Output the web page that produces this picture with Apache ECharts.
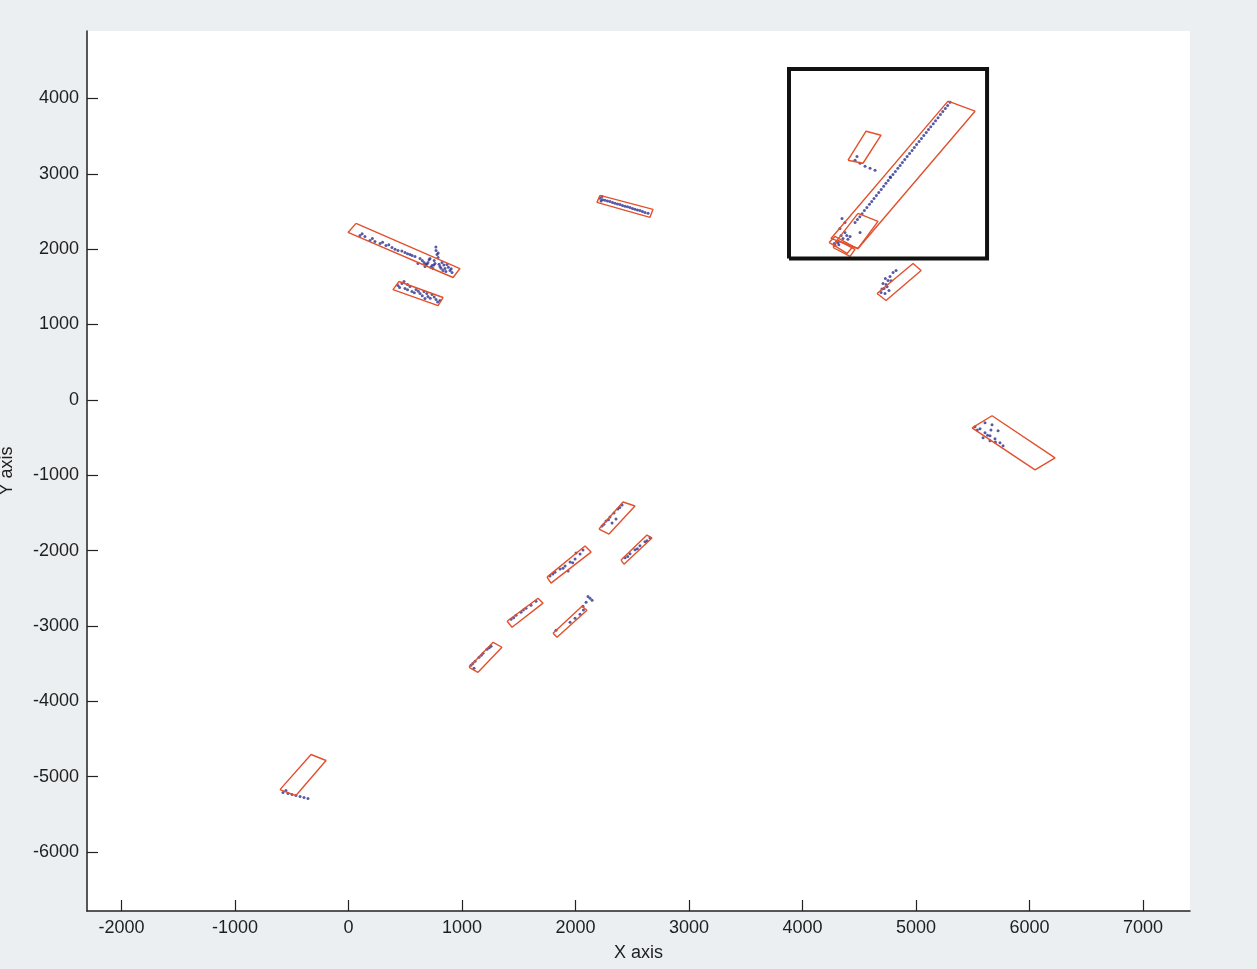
<!DOCTYPE html>
<html>
<head>
<meta charset="utf-8">
<title>Detected objects</title>
<script src="https://cdn.jsdelivr.net/npm/echarts@6/dist/echarts.min.js"></script>
<style>
  html, body { margin: 0; padding: 0; background: #eceff2; }
  #chart { width: 1257px; height: 969px; }
</style>
</head>
<body>
<div id="chart"></div>
<script>
// Axis ticks
const xTickValues = [-2000, -1000, 0, 1000, 2000, 3000, 4000, 5000, 6000, 7000];
const yTickValues = [-6000, -5000, -4000, -3000, -2000, -1000, 0, 1000, 2000, 3000, 4000];
const xRange = [-2304, 7414];
const yRange = [-6783, 4895];

// Fitted object outlines (corner points, x / y)
const rectUpperLeftLong = [[66, 2342], [982, 1743], [921, 1624], [-4, 2222]];
const rectUpperLeftShort = [[445, 1571], [833, 1358], [789, 1251], [392, 1464]];
const rectTopMiddle = [[2216, 2714], [2683, 2528], [2656, 2422], [2189, 2621]];
const rectRightMid = [[4657, 1411], [4974, 1810], [5045, 1717], [4736, 1318]];
const rectFarRight = [[5494, -371], [5670, -211], [6225, -770], [6049, -930]];
const rectLaneA = [[2207, -1714], [2419, -1355], [2524, -1408], [2295, -1781]];
const rectLaneB = [[2401, -2126], [2630, -1794], [2674, -1834], [2427, -2180]];
const rectLaneC = [[1749, -2352], [2084, -1940], [2137, -2020], [1784, -2432]];
const rectLaneD = [[1397, -2938], [1670, -2632], [1714, -2698], [1441, -3017]];
const rectLaneE = [[1802, -3097], [2057, -2738], [2101, -2791], [1837, -3150]];
const rectLaneF = [[1062, -3549], [1274, -3217], [1352, -3283], [1141, -3616]];
const rectBottomLeft = [[-604, -5172], [-330, -4706], [-198, -4786], [-463, -5251]];
const rectWallLong = [[5282, 3964], [5520, 3831], [4489, 2009], [4251, 2142]];
const rectWallSmall = [[4401, 3180], [4560, 3565], [4692, 3512], [4533, 3140]];
const rectWallMid = [[4489, 2475], [4665, 2368], [4489, 2009], [4304, 2116]];
const rectWallCornerA = [[4234, 2089], [4286, 2169], [4445, 2036], [4392, 1943]];
const rectWallCornerB = [[4269, 2022], [4313, 2116], [4463, 1996], [4419, 1903]];

// Highlighted region
const focusFrame = [[3881, 1876], [5626, 1876], [5626, 4390], [3881, 4390]];

// Scan returns (x / y)
const ptsUpperLeftLong = [
  [101, 2182], [145, 2169], [189, 2116], [233, 2102], [278, 2076], [330, 2049],
  [383, 2022], [436, 1983], [498, 1956], [542, 1929], [586, 1903], [630, 1876],
  [665, 1823], [700, 1823], [718, 1876], [736, 1783], [762, 1810], [780, 1929],
  [789, 1890], [806, 1770], [824, 1823], [850, 1743], [868, 1796], [894, 1717],
  [912, 1690], [674, 1770], [612, 1810], [744, 1743], [832, 1717], [771, 1983],
  [120, 2205], [210, 2140], [300, 2090], [355, 2060], [410, 2000], [470, 1975],
  [520, 1940], [560, 1915], [650, 1850], [690, 1800], [725, 1760], [755, 1850],
  [798, 1800], [815, 1745], [840, 1790], [858, 1705], [880, 1760], [905, 1740],
  [770, 2030], [790, 1950], [752, 1790], [710, 1860], [680, 1800]
];
const ptsUpperLeftShort = [
  [436, 1517], [471, 1544], [498, 1477], [542, 1504], [559, 1438], [595, 1464],
  [630, 1411], [665, 1438], [700, 1371], [736, 1398], [771, 1331], [806, 1318],
  [489, 1571], [674, 1345], [450, 1490], [520, 1460], [580, 1420], [615, 1440],
  [650, 1380], [690, 1410], [720, 1350], [755, 1365], [785, 1300], [520, 1530]
];
const ptsTopMiddle = [
  [2216, 2674], [2260, 2648], [2304, 2634], [2348, 2608], [2392, 2594], [2436, 2568],
  [2480, 2554], [2524, 2528], [2568, 2514], [2612, 2488], [2639, 2475], [2234, 2700],
  [2238, 2655], [2282, 2640], [2326, 2620], [2370, 2600], [2414, 2580], [2458, 2562],
  [2502, 2540], [2546, 2520], [2590, 2500], [2225, 2640]
];
const ptsRightMid = [
  [4692, 1424], [4718, 1477], [4736, 1531], [4754, 1584], [4771, 1637], [4798, 1690],
  [4824, 1717], [4727, 1411], [4762, 1451], [4709, 1544], [4700, 1470], [4745, 1500],
  [4780, 1580], [4730, 1610]
];
const ptsFarRight = [
  [5520, -356], [5564, -383], [5608, -436], [5652, -476], [5696, -516], [5740, -569],
  [5767, -609], [5608, -303], [5670, -330], [5723, -409], [5591, -503], [5652, -543],
  [5540, -400], [5630, -470], [5700, -560], [5660, -400]
];
const ptsLaneA = [
  [2234, -1675], [2269, -1608], [2304, -1555], [2339, -1502], [2374, -1448],
  [2410, -1395], [2322, -1635], [2357, -1582], [2250, -1650], [2290, -1590],
  [2390, -1430]
];
const ptsLaneB = [
  [2436, -2096], [2480, -2043], [2524, -1990], [2568, -1936], [2612, -1883], [2656, -1830],
  [2460, -2080], [2545, -1975], [2630, -1870]
];
const ptsLaneC = [
  [1775, -2339], [1819, -2286], [1864, -2246], [1908, -2206], [1952, -2153],
  [1996, -2113], [2040, -2047], [2005, -2033], [1935, -2272], [2066, -1993],
  [1800, -2310], [1890, -2235], [1975, -2160]
];
const ptsLaneD = [
  [1432, -2911], [1476, -2858], [1520, -2818], [1564, -2765], [1608, -2725], [1652, -2671],
  [1455, -2890], [1540, -2790]
];
const ptsLaneE = [
  [1952, -2951], [1996, -2898], [2040, -2845], [2066, -2738], [2093, -2685],
  [2128, -2632], [2146, -2659], [1828, -3057], [2070, -2790], [2110, -2610]
];
const ptsLaneF = [
  [1079, -3522], [1115, -3469], [1150, -3416], [1185, -3363], [1220, -3310],
  [1256, -3270], [1106, -3562], [1095, -3500], [1170, -3390], [1240, -3290]
];
const ptsBottomLeft = [
  [-577, -5211], [-533, -5225], [-498, -5238], [-463, -5251], [-427, -5264],
  [-392, -5278], [-357, -5291], [-551, -5185]
];
const ptsWall = [
  [4463, 2354], [4505, 2430], [4545, 2512], [4590, 2595], [4630, 2672], [4672, 2752],
  [4715, 2835], [4755, 2910], [4797, 2992], [4840, 3072], [4880, 3150], [4922, 3230],
  [4965, 3310], [5005, 3388], [5048, 3468], [5090, 3548], [5130, 3625], [5172, 3705],
  [5215, 3788], [5258, 3868], [5300, 3950], [4484, 2392], [4567, 2553], [4651, 2712],
  [4735, 2873], [4818, 3032], [4901, 3190], [4985, 3349], [5069, 3508], [5152, 3665],
  [5236, 3828], [4772, 2956], [4525, 2470], [4610, 2633], [4693, 2793], [4776, 2952],
  [4860, 3110], [4943, 3270], [5027, 3428], [5110, 3587], [5194, 3745], [5279, 3908]
];
const ptsWallCorner = [
  [4330, 2275], [4374, 2222], [4357, 2142], [4313, 2089], [4286, 2049], [4419, 2169],
  [4507, 2222], [4348, 2407], [4374, 2354], [4300, 2100], [4390, 2180], [4340, 2180],
  [4280, 2075], [4320, 2060], [4400, 2130]
];
const ptsWallSmall = [
  [4463, 3180], [4507, 3140], [4551, 3100], [4595, 3074], [4639, 3047], [4480, 3230]
];

// Free text annotation
const noteText = '123';
const notePosition = [0, 0];

const outlineColor = '#e2502c';
const pointColor = '#2d318f';

const outlines = [
  rectUpperLeftLong, rectUpperLeftShort, rectTopMiddle, rectRightMid, rectFarRight,
  rectLaneA, rectLaneB, rectLaneC, rectLaneD, rectLaneE, rectLaneF, rectBottomLeft,
  rectWallLong, rectWallSmall, rectWallMid, rectWallCornerA, rectWallCornerB
];
const pointGroups = [
  ptsUpperLeftLong, ptsUpperLeftShort, ptsTopMiddle, ptsRightMid, ptsFarRight,
  ptsLaneA, ptsLaneB, ptsLaneC, ptsLaneD, ptsLaneE, ptsLaneF, ptsBottomLeft,
  ptsWall, ptsWallCorner, ptsWallSmall
];

const series = [];

pointGroups.forEach(function (pts) {
  series.push({
    type: 'scatter',
    data: pts,
    symbol: 'circle',
    symbolSize: 3,
    itemStyle: { color: pointColor },
    silent: true,
    z: 3
  });
});

outlines.forEach(function (corners) {
  series.push({
    type: 'line',
    data: corners.concat([corners[0]]),
    showSymbol: false,
    symbol: 'none',
    lineStyle: { color: outlineColor, width: 1.4 },
    silent: true,
    z: 4
  });
});

series.push({
  type: 'line',
  data: focusFrame.concat([focusFrame[0]]),
  showSymbol: false,
  symbol: 'none',
  lineStyle: { color: '#111111', width: 4, join: 'miter' },
  silent: true,
  z: 5
});

series.push({
  type: 'scatter',
  data: [notePosition],
  symbolSize: 1,
  itemStyle: { opacity: 0 },
  label: {
    show: true,
    formatter: noteText,
    position: 'right',
    distance: 0,
    color: '#222222',
    fontSize: 17,
    fontFamily: 'Liberation Sans, Arial, sans-serif'
  },
  silent: true,
  z: 6
});

const axisFont = { color: '#1e1e1e', fontSize: 18, fontFamily: 'Liberation Sans, Arial, sans-serif' };
const plainNumber = function (v) { return String(v); };

const chart = echarts.init(document.getElementById('chart'), null, { renderer: 'canvas' });
chart.setOption({
  animation: false,
  backgroundColor: '#eceff2',
  grid: {
    left: 87, right: 67, top: 31, bottom: 58,
    outerBoundsMode: 'none',
    containLabel: false,
    show: true, backgroundColor: '#ffffff', borderWidth: 0
  },
  xAxis: {
    type: 'value',
    min: xRange[0],
    max: xRange[1],
    name: 'X axis',
    nameLocation: 'middle',
    nameGap: 33,
    nameTextStyle: axisFont,
    axisLine: { show: true, onZero: false, lineStyle: { color: '#222222', width: 1.5 } },
    axisTick: { show: true, inside: true, length: 11, customValues: xTickValues, lineStyle: { color: '#222222', width: 1.2 } },
    axisLabel: Object.assign({ customValues: xTickValues, margin: 8, formatter: plainNumber }, axisFont),
    splitLine: { show: false }
  },
  yAxis: {
    type: 'value',
    min: yRange[0],
    max: yRange[1],
    name: 'Y axis',
    nameLocation: 'middle',
    nameRotate: 90,
    nameGap: 71,
    nameTextStyle: axisFont,
    axisLine: { show: true, onZero: false, lineStyle: { color: '#222222', width: 1.5 } },
    axisTick: { show: true, inside: true, length: 11, customValues: yTickValues, lineStyle: { color: '#222222', width: 1.2 } },
    axisLabel: Object.assign({ customValues: yTickValues, margin: 8, formatter: plainNumber }, axisFont),
    splitLine: { show: false }
  },
  series: series
});
</script>
</body>
</html>
